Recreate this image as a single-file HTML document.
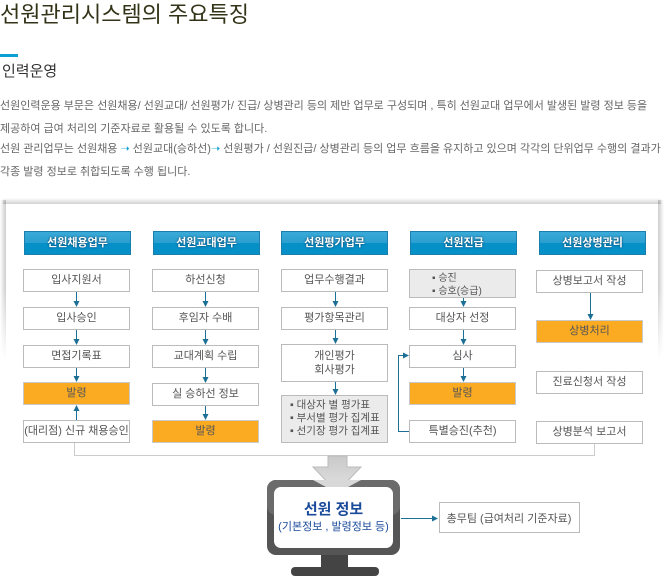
<!DOCTYPE html>
<html><head><meta charset="utf-8"><style>
*{margin:0;padding:0;box-sizing:border-box}
body{width:669px;height:585px;background:#fff;position:relative;overflow:hidden;font-family:"Liberation Sans","Noto Sans CJK KR",sans-serif}
.a{position:absolute}
.t{white-space:nowrap}
.p{font-size:11px;color:#666;left:0}
.sl{left:0;top:200px;width:6px;height:160px;background:linear-gradient(to left,rgba(0,0,0,.2),rgba(0,0,0,0));-webkit-mask-image:linear-gradient(#000 55%,transparent);mask-image:linear-gradient(#000 55%,transparent)}
.sr{left:658px;top:200px;width:6px;height:160px;background:linear-gradient(to right,rgba(0,0,0,.2),rgba(0,0,0,0));-webkit-mask-image:linear-gradient(#000 55%,transparent);mask-image:linear-gradient(#000 55%,transparent)}
.st{left:3px;top:198px;width:658px;height:6px;background:linear-gradient(to top,rgba(0,0,0,.18),rgba(0,0,0,0))}
.h{height:24px;width:107px;background:linear-gradient(#3aaad8 0,#2a9fd0 50%,#0690c8 50%,#0690c8 100%);border:1px solid #1b7fae;color:#fff;font-size:11px;font-weight:bold;text-align:center;line-height:22px;text-shadow:0 0 2px #035}
.b{width:107px;height:23px;background:#fff;border:1px solid #bbb;font-size:11px;color:#555;text-align:center;line-height:21px}
.o{background:#fbab22;border-color:#c9c9c9;color:#555}
.g{background:#ebebeb;border-color:#bbb}
.li{font-size:10.5px;color:#555;text-align:left;line-height:13px}
</style></head><body>
<div class="a t" style="left:0;top:-3px;font-size:22px;color:#333318">선원관리시스템의 주요특징</div>
<div class="a" style="left:0;top:54px;width:18px;height:3px;background:#0aa0d4"></div>
<div class="a t" style="left:2px;top:60px;font-size:15px;color:#333">인력운영</div>
<div class="a t p" style="top:97px">선원인력운용 부문은 선원채용/ 선원교대/ 선원평가/ 진급/ 상병관리 등의 제반 업무로 구성되며 , 특히 선원교대 업무에서 발생된 발령 정보 등을</div>
<div class="a t p" style="top:120px">제공하여 급여 처리의 기준자료로 활용될 수 있도록 합니다.</div>
<div class="a t p" style="top:140px">선원 관리업무는 선원채용 <span style="color:#0aa0d4">➝</span> 선원교대(승하선)<span style="color:#0aa0d4">➝</span>  선원평가 / 선원진급/ 상병관리 등의 업무 흐름을 유지하고 있으며 각각의 단위업무 수행의 결과가</div>
<div class="a t p" style="top:163px">각종 발령 정보로 취합되도록 수행 됩니다.</div>

<div class="a st"></div>
<div class="a sl"></div>
<div class="a sr"></div>

<div class="a h" style="left:24px;top:231px">선원채용업무</div>
<div class="a h" style="left:153px;top:231px">선원교대업무</div>
<div class="a h" style="left:281px;top:231px">선원평가업무</div>
<div class="a h" style="left:410px;top:231px">선원진급</div>
<div class="a h" style="left:539px;top:231px">선원상병관리</div>

<div class="a b" style="left:23px;top:269px">입사지원서</div>
<div class="a b" style="left:23px;top:307px">입사승인</div>
<div class="a b" style="left:23px;top:345px">면접기록표</div>
<div class="a b o" style="left:23px;top:382px">발령</div>
<div class="a b" style="left:23px;top:420px">(대리점) 신규 채용승인</div>

<div class="a b" style="left:152px;top:269px">하선신청</div>
<div class="a b" style="left:152px;top:307px">후임자 수배</div>
<div class="a b" style="left:152px;top:345px">교대계획 수립</div>
<div class="a b" style="left:152px;top:383px">실 승하선 정보</div>
<div class="a b o" style="left:152px;top:420px">발령</div>

<div class="a b" style="left:281px;top:269px">업무수행결과</div>
<div class="a b" style="left:281px;top:307px">평가항목관리</div>
<div class="a b" style="left:281px;top:344px;height:38px;line-height:14px;padding-top:4px">개인평가<br>회사평가</div>
<div class="a b g li" style="left:281px;top:395px;height:48px;padding:3px 0 0 8px">▪ 대상자 별 평가표<br>▪ 부서별 평가 집계표<br>▪ 선기장 평가 집계표</div>

<div class="a b g li" style="left:409px;top:269px;height:29px;padding:2px 0 0 22px;font-size:10px">▪ 승진<br>▪ 승호(승급)</div>
<div class="a b" style="left:409px;top:307px">대상자 선정</div>
<div class="a b" style="left:409px;top:345px">심사</div>
<div class="a b o" style="left:409px;top:382px">발령</div>
<div class="a b" style="left:409px;top:420px">특별승진(추천)</div>

<div class="a b" style="left:536px;top:270px">상병보고서 작성</div>
<div class="a b o" style="left:536px;top:320px">상병처리</div>
<div class="a b" style="left:536px;top:371px">진료신청서 작성</div>
<div class="a b" style="left:536px;top:421px">상병분석 보고서</div>

<svg class="a" style="left:0;top:0" width="669" height="585">
<defs><marker id="m" markerWidth="6" markerHeight="6" refX="5" refY="3" orient="auto" markerUnits="userSpaceOnUse"><path d="M0,0 L6,3 L0,6z" fill="#1c6f95"/></marker></defs>
<g stroke="#1c6f95" stroke-width="1" fill="none" marker-end="url(#m)">
<path d="M76.5 292 V306"/><path d="M76.5 330 V344"/><path d="M76.5 368 V381"/><path d="M76.5 420 V406"/>
<path d="M205.5 292 V306"/><path d="M205.5 330 V344"/><path d="M205.5 368 V382"/><path d="M205.5 406 V419"/>
<path d="M335.5 292 V306"/><path d="M335.5 330 V343"/><path d="M335.5 382 V394"/>
<path d="M463.5 298 V306"/><path d="M463.5 330 V344"/><path d="M463.5 368 V381"/>
<path d="M590.5 293 V319"/>
<path d="M409 431.5 H398.5 V355.5 H408"/>
<path d="M401 518.5 H437"/>
</g>
<path d="M74.5 443 V455.5 H594.5 V444" stroke="#ccc" fill="none"/>
<defs><linearGradient id="ga" x1="0" y1="0" x2="0" y2="1"><stop offset="0" stop-color="#c9c9c9"/><stop offset="1" stop-color="#e2e2e2"/></linearGradient></defs>
<path d="M328 456 H347 V467 H361 L337 492 L313 467 H328Z" fill="url(#ga)" stroke="#bbb"/>
<rect x="267" y="480" width="133" height="75" rx="9" fill="#555"/>
<rect x="267" y="480" width="133" height="35" rx="9" fill="#6b6b6b"/>
<path d="M313 480 L337 493 L361 480Z" fill="#d8d8d8"/>
<rect x="274" y="487" width="119" height="61" rx="7" fill="#fff"/>
<rect x="321" y="555" width="27" height="13" fill="#444"/>
<rect x="291" y="567" width="88" height="9" rx="4" fill="#444"/>
<text x="333.5" y="514" text-anchor="middle" font-size="15" font-weight="bold" fill="#1a4a9a" font-family="Liberation Sans,Noto Sans CJK KR,sans-serif">선원 정보</text>
<text x="333.5" y="530" text-anchor="middle" font-size="11" fill="#1a4a9a" font-family="Liberation Sans,Noto Sans CJK KR,sans-serif">(기본정보 , 발령정보 등)</text>
<rect x="439.5" y="502.5" width="140" height="30" fill="#fff" stroke="#bbb"/>
<text x="509" y="522" text-anchor="middle" font-size="11" fill="#555" font-family="Liberation Sans,Noto Sans CJK KR,sans-serif">총무팀 (급여처리 기준자료)</text>
</svg>
</body></html>
